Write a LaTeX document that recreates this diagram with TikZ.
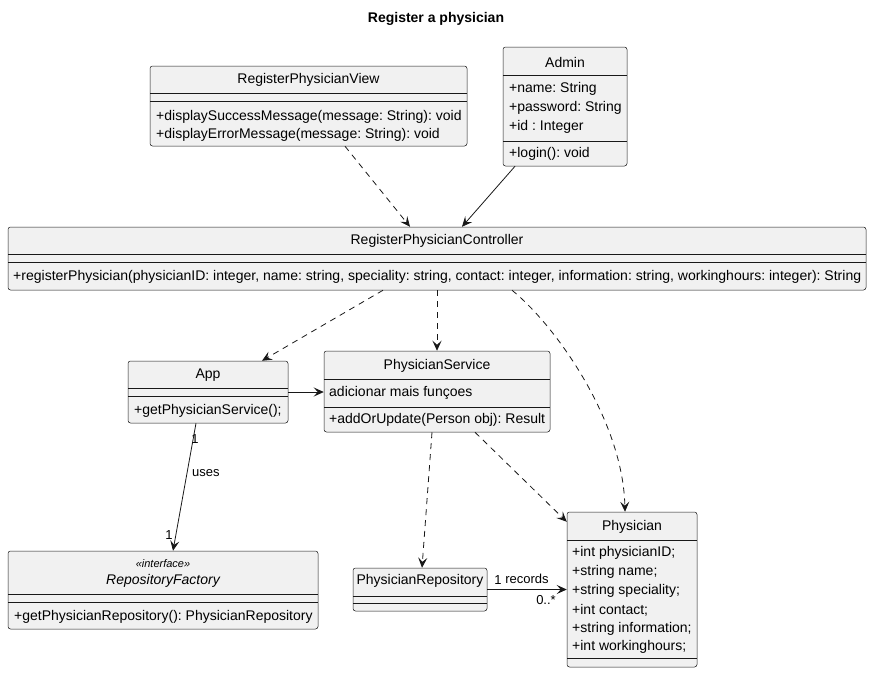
\documentclass[tikz,border=0pt]{standalone}
\usepackage{fontspec}
\setmainfont{Liberation Sans}
\usetikzlibrary{arrows.meta}
\definecolor{umlfill}{HTML}{F1F1F1}
\definecolor{umlline}{HTML}{181818}
\frenchspacing
\tikzset{
  classbox/.style={draw=umlline, fill=umlfill, rounded corners=2.5pt, line width=0.5pt, inner sep=0pt},
  sepline/.style={draw=umlline, line width=0.5pt},
  classname/.style={font=\fontsize{14}{16}\selectfont, inner sep=0pt},
  member/.style={font=\fontsize{14}{16}\selectfont, inner sep=0pt, anchor=west},
  lbl/.style={font=\fontsize{13}{15}\selectfont, inner sep=0pt},
  dep/.style={draw=umlline, line width=0.8pt, dash pattern=on 6pt off 5pt, -{Stealth[length=10pt,width=9pt,inset=4pt]}},
  assoc/.style={draw=umlline, line width=0.8pt, -{Stealth[length=10pt,width=9pt,inset=4pt]}}
}
\begin{document}
\begin{tikzpicture}[x=1pt,y=-1pt]
  \useasboundingbox (0,0) rectangle (872,673);
  % title
  \node[font=\bfseries\fontsize{14}{16}\selectfont, inner sep=0pt] (title) at (436,19) {Register a physician};

  % view
  \node[classbox, minimum width=317pt, minimum height=80pt] (view) at (308.5,106) {};
  \draw[sepline] (150,93) -- (467,93);
  \draw[sepline] (150,101) -- (467,101);
  \node[classname] (viewname) at (308.5,80) {RegisterPhysicianView};
  \node[member] (viewm1) at (156,117) {+displaySuccessMessage(message: String): void};
  \node[member] (viewm2) at (156,135) {+displayErrorMessage(message: String): void};

  % admin
  \node[classbox, minimum width=124pt, minimum height=119pt] (admin) at (565,106.5) {};
  \draw[sepline] (503,75) -- (627,75);
  \draw[sepline] (503,141) -- (627,141);
  \node[classname] (adminname) at (565,62) {Admin};
  \node[member] (admina1) at (509,89) {+name: String};
  \node[member] (admina2) at (509,108) {+password: String};
  \node[member] (admina3) at (509,127) {+id : Integer};
  \node[member] (adminm1) at (509,154) {+login(): void};

  % controller
  \node[classbox, minimum width=858pt, minimum height=63pt] (ctrl) at (437,258.5) {};
  \draw[sepline] (8,254) -- (866,254);
  \draw[sepline] (8,262) -- (866,262);
  \node[classname] (ctrlname) at (437,241) {RegisterPhysicianController};
  \node[member] (ctrlm1) at (13,277) {\resizebox{848pt}{\height}{+registerPhysician(physicianID: integer, name: string, speciality: string, contact: integer, information: string, workinghours: integer): String}};

  % app
  \node[classbox, minimum width=160pt, minimum height=62pt] (app) at (208,392) {};
  \draw[sepline] (128,388) -- (288,388);
  \draw[sepline] (128,396) -- (288,396);
  \node[classname] (appname) at (208,375) {App};
  \node[member] (appm1) at (134,411) {+getPhysicianService();};

  % service
  \node[classbox, minimum width=226pt, minimum height=81pt] (service) at (437,391.5) {};
  \draw[sepline] (324,379) -- (550,379);
  \draw[sepline] (324,407) -- (550,407);
  \node[classname] (servicename) at (437,366) {PhysicianService};
  \node[member] (servicea1) at (329,393) {adicionar mais funçoes};
  \node[member] (servicem1) at (329,420) {+addOrUpdate(Person obj): Result};

  % factory
  \node[classbox, minimum width=310pt, minimum height=78pt] (factory) at (163,590) {};
  \draw[sepline] (8,594) -- (318,594);
  \draw[sepline] (8,602) -- (318,602);
  \node[font=\itshape\fontsize{11}{13}\selectfont, inner sep=0pt] (factorystereo) at (163,564) {«interface»};
  \node[font=\itshape\fontsize{14}{16}\selectfont, inner sep=0pt] (factoryname) at (163,581) {RepositoryFactory};
  \node[member] (factorym1) at (14,617) {+getPhysicianRepository(): PhysicianRepository};

  % repository
  \node[classbox, minimum width=134pt, minimum height=43pt] (repo) at (420,589.5) {};
  \draw[sepline] (353,596) -- (487,596);
  \draw[sepline] (353,603) -- (487,603);
  \node[classname] (reponame) at (420,581) {PhysicianRepository};

  % physician
  \node[classbox, minimum width=130pt, minimum height=155pt] (physician) at (632,589.5) {};
  \draw[sepline] (567,540) -- (697,540);
  \draw[sepline] (567,658) -- (697,658);
  \node[classname] (physicianname) at (632,527) {Physician};
  \node[member] (physa1) at (572,553) {+int physicianID;};
  \node[member] (physa2) at (572,572) {+string name;};
  \node[member] (physa3) at (572,591) {+string speciality;};
  \node[member] (physa4) at (572,610) {+int contact;};
  \node[member] (physa5) at (572,629) {+string information;};
  \node[member] (physa6) at (572,647) {+int workinghours;};

  % links to controller
  \draw[dep] ([xshift=36.5pt]view.south) -- ([xshift=-27pt]ctrl.north);
  \draw[assoc] ([xshift=-50pt]admin.south) -- ([xshift=25pt]ctrl.north);

  % links from controller
  \draw[dep] ([xshift=-54pt]ctrl.south) -- ([xshift=54pt]app.north);
  \draw[dep] (ctrl.south) -- (service.north);
  \draw[dep] ([xshift=75pt]ctrl.south) .. controls (555,325) and (623,420) .. ([xshift=-7pt]physician.north);

  % app links
  \draw[assoc] (app.east) -- (app.east -| service.west);
  \draw[assoc] ([xshift=-12pt]app.south) -- ([xshift=10pt]factory.north);
  \node[lbl, anchor=west] (useslbl) at (192,473) {uses};
  \node[lbl] (appmult) at (195,439) {1};
  \node[lbl] (factorymult) at (169,535) {1};

  % service links
  \draw[dep] ([xshift=-5pt]service.south) -- ([xshift=2pt]repo.north);
  \draw[dep] ([xshift=38pt]service.south) -- ([yshift=-10pt]physician.north west);

  % repository to physician
  \draw[assoc] (repo.east) -- (repo.east -| physician.west);
  \node[lbl] (repomult) at (498,580) {1};
  \node[lbl] (recordslbl) at (527,579) {records};
  \node[lbl] (physmult) at (546,600) {0..*};
\end{tikzpicture}
\end{document}
